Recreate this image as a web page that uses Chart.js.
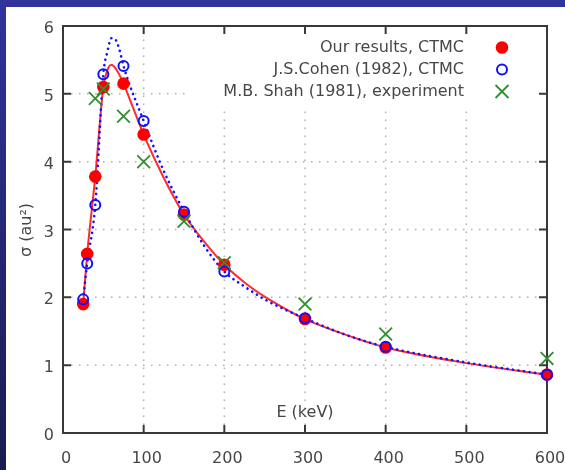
<!DOCTYPE html>
<html>
<head>
<meta charset="utf-8">
<script src="https://cdn.jsdelivr.net/npm/chart.js@4/dist/chart.umd.min.js"></script>
<style>
  html, body { margin: 0; padding: 0; }
  body {
    width: 565px; height: 470px; overflow: hidden; position: relative;
    background: linear-gradient(to bottom, #30339a, #1b1b52);
  }
  #sheet { position: absolute; left: 6px; top: 7px; width: 559px; height: 463px; background: #fff; }
  #chart { position: absolute; left: 0; top: 0; }
</style>
</head>
<body>
<div id="sheet"></div>
<canvas id="chart" width="565" height="470"></canvas>
<script>
// energies (keV) of the computed points
const energy = [25, 30, 40, 50, 75, 100, 150, 200, 300, 400, 600];
const oursCtmc = [1.9, 2.64, 3.78, 5.1, 5.15, 4.4, 3.22, 2.48, 1.68, 1.26, 0.86];
const cohenCtmc = [1.97, 2.5, 3.36, 5.29, 5.41, 4.6, 3.26, 2.38, 1.69, 1.27, 0.86];

// experiment
const shahEnergy = [40, 50, 75, 100, 150, 200, 300, 400, 600];
const shahExp = [4.93, 5.07, 4.67, 4.0, 3.12, 2.51, 1.9, 1.46, 1.1];

// curves through the points
const fitEnergy = [25, 30, 40, 50, 55, 60, 65, 70, 75, 100, 125, 150, 175, 200, 225, 250, 275, 300, 350, 400, 500, 600];
const oursFit = [1.9, 2.64, 3.78, 5.1, 5.35, 5.43, 5.38, 5.28, 5.15, 4.4, 3.76, 3.22, 2.82, 2.48, 2.22, 2.01, 1.835, 1.68, 1.45, 1.26, 1.03, 0.86];
const cohenFit = [1.97, 2.5, 3.36, 5.29, 5.62, 5.82, 5.8, 5.65, 5.41, 4.6, 3.86, 3.27, 2.76, 2.38, 2.16, 1.97, 1.82, 1.69, 1.45, 1.27, 1.04, 0.86];

const legendLabels = ['Our results, CTMC', 'J.S.Cohen (1982), CTMC', 'M.B. Shah (1981), experiment'];

const RED = '#ff0000';
const BLUE = '#1010ff';
const GREEN = '#2f8f2f';
const TEXT = '#474747';
const FONT = '16px "DejaVu Sans"';

function pts(xs, ys) {
  return xs.map((x, i) => ({ x: x, y: ys[i] }));
}

const frame = {
  id: 'frame',
  beforeDatasetsDraw(chart) {
    const { ctx, chartArea: a, scales: { x, y } } = chart;
    ctx.save();
    // dotted grid
    ctx.strokeStyle = '#b0b0b0';
    ctx.lineWidth = 1.5;
    ctx.setLineDash([1.5, 6.5]);
    x.ticks.forEach((t) => {
      if (t.value <= x.min || t.value >= x.max) return;
      const px = x.getPixelForValue(t.value);
      ctx.beginPath(); ctx.moveTo(px, a.bottom); ctx.lineTo(px, a.top); ctx.stroke();
    });
    y.ticks.forEach((t) => {
      if (t.value <= y.min || t.value >= y.max) return;
      const py = y.getPixelForValue(t.value);
      ctx.beginPath(); ctx.moveTo(a.left, py); ctx.lineTo(a.right, py); ctx.stroke();
    });
    ctx.setLineDash([]);
    // opaque key box
    ctx.fillStyle = '#fff';
    ctx.fillRect(190, a.top + 1, a.right - 191, 78);
    // border and inward ticks on every side
    ctx.strokeStyle = '#383838';
    ctx.lineWidth = 2;
    ctx.strokeRect(a.left, a.top, a.right - a.left, a.bottom - a.top);
    ctx.beginPath();
    x.ticks.forEach((t) => {
      const px = x.getPixelForValue(t.value);
      ctx.moveTo(px, a.bottom); ctx.lineTo(px, a.bottom - 8);
      ctx.moveTo(px, a.top); ctx.lineTo(px, a.top + 8);
    });
    y.ticks.forEach((t) => {
      const py = y.getPixelForValue(t.value);
      ctx.moveTo(a.left, py); ctx.lineTo(a.left + 8, py);
      ctx.moveTo(a.right, py); ctx.lineTo(a.right - 8, py);
    });
    ctx.stroke();
    ctx.restore();
  },
  afterDraw(chart) {
    const { ctx } = chart;
    ctx.save();
    ctx.font = FONT;
    ctx.fillStyle = TEXT;
    ctx.textBaseline = 'middle';
    // axis titles
    ctx.textAlign = 'center';
    ctx.fillText('E (keV)', 305, 413);
    ctx.translate(27, 230);
    ctx.rotate(-Math.PI / 2);
    ctx.fillText('σ (au²)', 0, 0);
    ctx.restore();

    // key
    ctx.save();
    ctx.font = FONT;
    ctx.fillStyle = TEXT;
    ctx.textBaseline = 'middle';
    ctx.textAlign = 'right';
    const rows = [47.5, 69.5, 91.5];
    const mx = 502;
    legendLabels.forEach((l, i) => ctx.fillText(l, 464, rows[i]));
    ctx.fillStyle = RED;
    ctx.beginPath(); ctx.arc(mx, rows[0], 6.3, 0, Math.PI * 2); ctx.fill();
    ctx.strokeStyle = BLUE;
    ctx.lineWidth = 2;
    ctx.beginPath(); ctx.arc(mx, rows[1], 5, 0, Math.PI * 2); ctx.stroke();
    ctx.strokeStyle = GREEN;
    ctx.lineWidth = 1.8;
    ctx.beginPath();
    ctx.moveTo(mx - 6.5, rows[2] - 6.5); ctx.lineTo(mx + 6.5, rows[2] + 6.5);
    ctx.moveTo(mx - 6.5, rows[2] + 6.5); ctx.lineTo(mx + 6.5, rows[2] - 6.5);
    ctx.stroke();
    ctx.restore();
  },
};

const tickFont = { family: 'DejaVu Sans', size: 16 };

new Chart(document.getElementById('chart'), {
  type: 'scatter',
  data: {
    datasets: [
      {
        label: legendLabels[2],
        data: pts(shahEnergy, shahExp),
        pointStyle: 'crossRot',
        pointRadius: 9,
        borderColor: GREEN,
        backgroundColor: GREEN,
        pointBorderWidth: 1.8,
        clip: false,
        order: 0,
      },
      {
        label: legendLabels[1],
        data: pts(energy, cohenCtmc),
        pointStyle: 'circle',
        pointRadius: 5,
        borderColor: BLUE,
        backgroundColor: 'rgba(0,0,0,0)',
        pointBorderWidth: 2,
        clip: false,
        order: 1,
      },
      {
        label: legendLabels[0],
        data: pts(energy, oursCtmc),
        pointStyle: 'circle',
        pointRadius: 6.3,
        borderWidth: 0,
        pointBorderWidth: 0,
        backgroundColor: RED,
        borderColor: RED,
        clip: false,
        order: 2,
      },
      {
        label: 'cohen fit',
        data: pts(fitEnergy, cohenFit),
        showLine: true,
        pointRadius: 0,
        borderColor: BLUE,
        borderWidth: 2.6,
        borderDash: [0.1, 5.5],
        borderCapStyle: 'round',
        cubicInterpolationMode: 'monotone',
        clip: false,
        order: 3,
      },
      {
        label: 'our fit',
        data: pts(fitEnergy, oursFit),
        showLine: true,
        pointRadius: 0,
        borderColor: 'rgba(255,20,20,0.9)',
        borderWidth: 2,
        cubicInterpolationMode: 'monotone',
        clip: false,
        order: 4,
      },
    ],
  },
  options: {
    responsive: false,
    animation: false,
    events: [],
    layout: { padding: { left: 0, right: 18, top: 26, bottom: 0 } },
    plugins: { legend: { display: false }, tooltip: { enabled: false } },
    scales: {
      x: {
        type: 'linear',
        min: 0,
        max: 600,
        ticks: { stepSize: 100, padding: 16, labelOffset: 3, color: TEXT, font: tickFont, maxRotation: 0 },
        grid: { display: false, drawTicks: false },
        border: { display: false },
        afterFit(s) { s.height = 37; s.paddingLeft = 0; s.paddingRight = 0; },
      },
      y: {
        type: 'linear',
        min: 0,
        max: 6,
        ticks: { stepSize: 1, padding: 9, labelOffset: 3, color: TEXT, font: tickFont },
        grid: { display: false, drawTicks: false },
        border: { display: false },
        afterFit(s) { s.width = 63; s.paddingTop = 0; s.paddingBottom = 0; },
      },
    },
  },
  plugins: [frame],
});
</script>
</body>
</html>
